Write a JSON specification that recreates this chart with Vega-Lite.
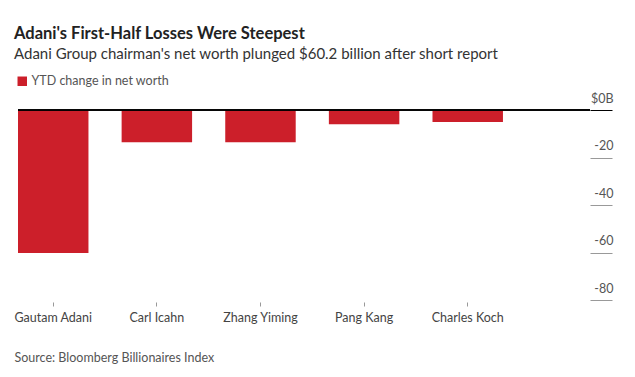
{
  "$schema": "https://vega.github.io/schema/vega-lite/v6.json",
  "autosize": "none",
  "width": 572,
  "height": 190,
  "padding": {"left": 18, "top": 110, "right": 45, "bottom": 77},
  "config": {"view": {"stroke": null}, "font": "Lato"},
  "title": {
    "text": "Adani's First-Half Losses Were Steepest",
    "subtitle": "Adani Group chairman's net worth plunged $60.2 billion after short report",
    "anchor": "start",
    "frame": "group",
    "dx": -4,
    "fontSize": 16.5,
    "fontWeight": "bold",
    "color": "#222222",
    "subtitleFontSize": 15,
    "subtitleColor": "#333333",
    "subtitlePadding": 5,
    "offset": 13
  },
  "data": {
    "values": [
      {"name": "Gautam Adani", "change": -60.2},
      {"name": "Carl Icahn", "change": -13.6},
      {"name": "Zhang Yiming", "change": -13.6},
      {"name": "Pang Kang", "change": -6.0},
      {"name": "Charles Koch", "change": -5.1}
    ]
  },
  "layer": [
    {
      "mark": {"type": "bar"},
      "encoding": {
        "x": {
          "field": "name",
          "type": "nominal",
          "sort": null,
          "scale": {"paddingInner": 0.32, "paddingOuter": 0.42, "align": 0},
          "axis": {
            "domain": false,
            "tickSize": 4,
            "tickColor": "#999999",
            "offset": 2,
            "labelPadding": 5,
            "labelFontSize": 12.5,
            "labelColor": "#444444",
            "labelAngle": 0,
            "title": "Source: Bloomberg Billionaires Index",
            "titleAnchor": "start",
            "titleAlign": "left",
            "titleX": -4,
            "titleY": 59,
            "titleBaseline": "alphabetic",
            "titleFontSize": 12.5,
            "titleFontWeight": "normal",
            "titleColor": "#555555"
          }
        },
        "y": {
          "field": "change",
          "type": "quantitative",
          "scale": {"domain": [-80, 0], "nice": false},
          "axis": {
            "orient": "right",
            "values": [0, -20, -40, -60, -80],
            "labelExpr": "datum.value == 0 ? '$0B' : '' + datum.value",
            "domain": false,
            "grid": false,
            "tickSize": 22,
            "tickColor": {"condition": {"test": "datum.value == 0", "value": "#000000"}, "value": "#999999"},
            "tickWidth": 1,
            "labelAlign": "right",
            "labelPadding": 1,
            "labelBaseline": "alphabetic",
            "labelOffset": -8,
            "labelFontSize": 12.5,
            "labelColor": "#555555",
            "title": null
          }
        },
        "color": {
          "datum": "YTD change in net worth",
          "type": "nominal",
          "scale": {"range": ["#cc1f2a"]},
          "legend": {
            "orient": "none",
            "legendX": -2,
            "legendY": -35,
            "title": null,
            "symbolType": "square",
            "symbolSize": 90,
            "symbolStrokeWidth": 0,
            "labelFontSize": 12.5,
            "labelColor": "#555555",
            "labelOffset": 3
          }
        }
      }
    },
    {
      "mark": {"type": "rule", "color": "#000000", "strokeWidth": 1.2},
      "encoding": {"y": {"datum": 0}}
    }
  ]
}
